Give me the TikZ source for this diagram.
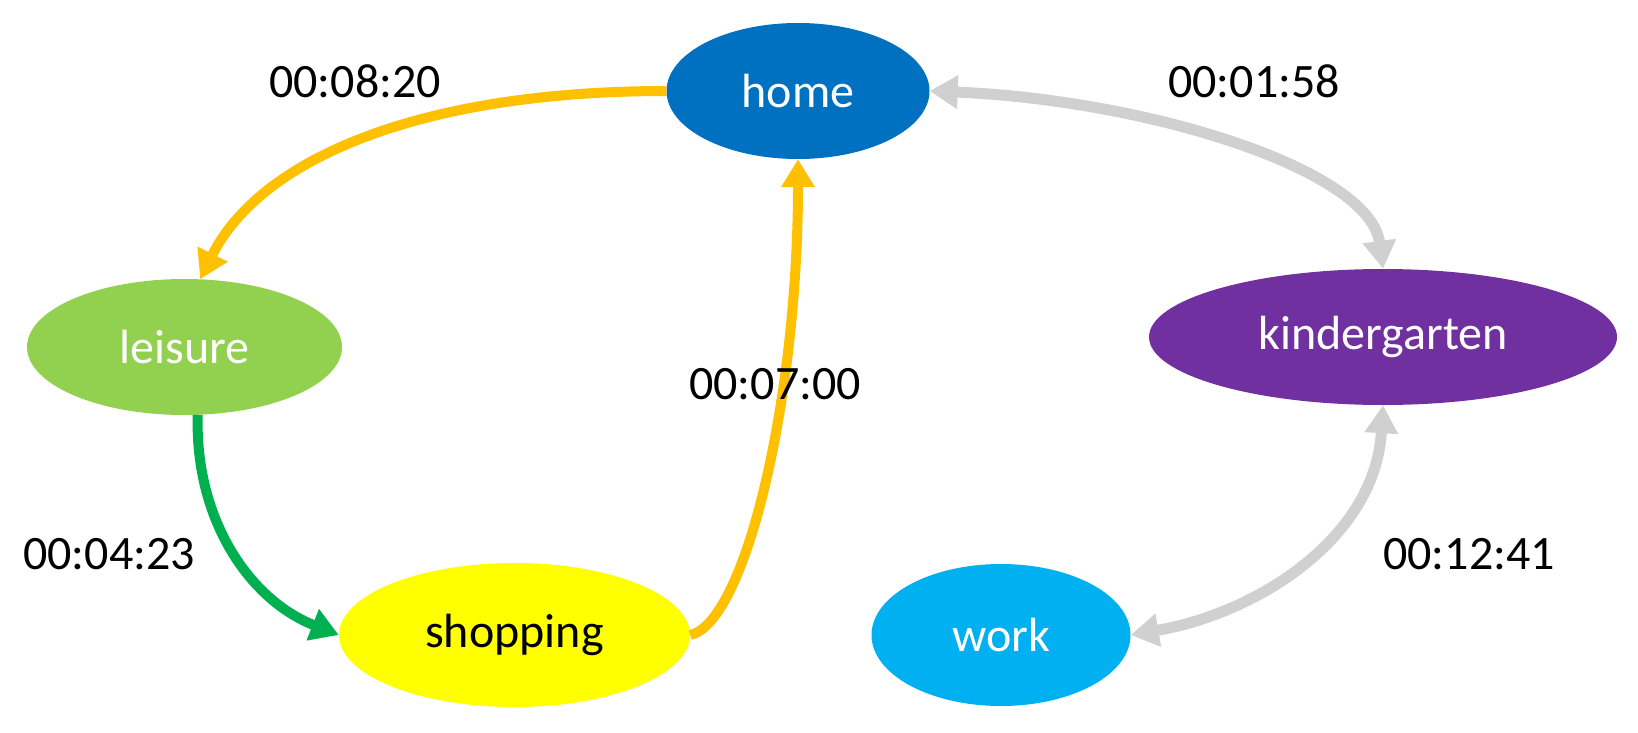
\documentclass[tikz,border=0pt]{standalone}
\usepackage{fontspec}
\setmainfont{Carlito}
\usetikzlibrary{shapes.geometric,arrows.meta}
\definecolor{homeblue}{HTML}{0070C0}
\definecolor{leisgreen}{HTML}{92D050}
\definecolor{shopyellow}{HTML}{FFFF00}
\definecolor{workblue}{HTML}{00B0F0}
\definecolor{kgpurple}{HTML}{7030A0}
\definecolor{edgeorange}{HTML}{FFC000}
\definecolor{edgegreen}{HTML}{00B050}
\definecolor{edgegray}{HTML}{D0D0D0}
\tikzset{
  place/.style={ellipse, inner sep=0pt, font=\fontsize{48}{58}\selectfont, text=white},
  timelabel/.style={font=\fontsize{48}{58}\selectfont, text=black, inner sep=0pt},
  tip/.style={-{Triangle[width=32pt,length=28pt]}},
  bitip/.style={{Triangle[width=32pt,length=28pt]}-{Triangle[width=32pt,length=28pt]}},
  orangeedge/.style={draw=edgeorange, line width=10pt, tip},
  greenedge/.style={draw=edgegreen, line width=10pt, tip},
  grayedge/.style={draw=edgegray, line width=11pt, bitip},
}
\begin{document}
\begin{tikzpicture}[x=1pt,y=-1pt]
\useasboundingbox (0,0) rectangle (1638,733);
\node[place, fill=homeblue, minimum width=263pt, minimum height=136pt] (home) at (798,91) {home};
\node[place, fill=leisgreen, minimum width=315pt, minimum height=136pt] (leisure) at (184.5,347) {leisure};
\node[place, fill=shopyellow, minimum width=351pt, minimum height=144pt, text=black] (shopping) at (514.5,635) {shopping};
\node[place, fill=workblue, minimum width=259pt, minimum height=142pt] (work) at (1001,635) {work};
\node[place, fill=kgpurple, minimum width=468pt, minimum height=136pt] (kg) at (1383,337) {kindergarten};

\path[orangeedge] (home.west) .. controls +(-247,0) and +(60,-120) .. (leisure.77);
\path[greenedge] (leisure.-79) .. controls +(-3,105) and +(-89,-35) .. (shopping.west);
\path[orangeedge] (shopping.east) .. controls +(55,-12) and +(0,241) .. (home.south);
\path[grayedge] (home.east) .. controls +(219,9) and +(-13,-99) .. (kg.north);
\path[grayedge] (kg.south) .. controls +(-8,133) and +(127,-22) .. (work.east);

\node[timelabel] (l1) at (355,81) {00:08:20};
\node[timelabel] (l2) at (1254,81) {00:01:58};
\node[timelabel] (l3) at (775,384) {00:07:00};
\node[timelabel] (l4) at (109,554) {00:04:23};
\node[timelabel] (l5) at (1469,554) {00:12:41};
\end{tikzpicture}
\end{document}
